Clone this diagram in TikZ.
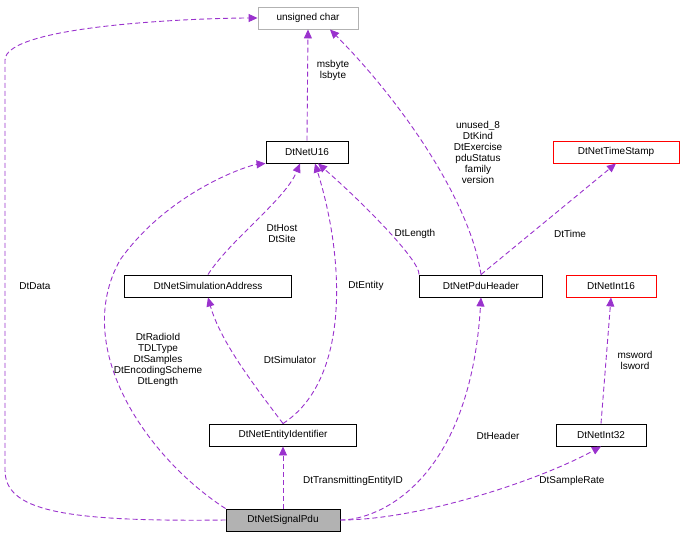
\documentclass[tikz,border=0pt]{standalone}
\usepackage{fontspec}
\setmainfont{Liberation Sans}
\usetikzlibrary{arrows.meta}
\definecolor{ed}{HTML}{9A32CD}
\begin{document}
\begin{tikzpicture}[x=1pt,y=-1pt,
 box/.style={draw,line width=0.9pt,fill=white,minimum height=22pt,inner xsep=5pt,font=\fontsize{10}{11}\selectfont},
 e/.style={draw=ed,line width=0.9pt,dash pattern=on 5pt off 3pt,-{Triangle[fill=ed,length=9pt,width=8pt]}},
 lb/.style={font=\fontsize{10}{11}\selectfont,align=center,inner sep=1pt}]
\useasboundingbox (0,0) rectangle (683,547);
\node[box,draw=gray!60,minimum width=100pt] (uc) at (308,18) {unsigned char};
\node[box,draw=black,minimum width=82pt] (u16) at (307,152) {DtNetU16};
\node[box,draw=red,minimum width=126pt] (ts) at (616,152) {DtNetTimeStamp};
\node[box,draw=black,minimum width=167pt] (sa) at (208,286) {DtNetSimulationAddress};
\node[box,draw=black,minimum width=123pt] (ph) at (481,286) {DtNetPduHeader};
\node[box,draw=red,minimum width=90pt] (i16) at (611,286) {DtNetInt16};
\node[box,draw=black,minimum width=147pt] (ei) at (283,435) {DtNetEntityIdentifier};
\node[box,draw=black,minimum width=90pt] (i32) at (601,435) {DtNetInt32};
\node[box,draw=black,fill=gray!60,minimum width=114pt] (sp) at (283,520) {DtNetSignalPdu};
\coordinate (a1) at (5,470);
\draw[e] (sp.west) .. controls (60,522) and (5,510) .. (a1) -- (5,60) .. controls (5,25) and (200,18) .. (uc.west);
\node[lb] at (35,286) {DtData};
\draw[e] (sp.north west) .. controls (150,460) and (70,350) .. (120,260) .. controls (170,190) and (250,165) .. (u16.south west);
\node[lb] at (158,360) {DtRadioId\\TDLType\\DtSamples\\DtEncodingScheme\\DtLength};
\draw[e] (ei.north) .. controls (250,380) and (220,340) .. (sa.south);
\node[lb] at (290,360) {DtSimulator};
\draw[e] (ei.north) .. controls (350,380) and (345,260) .. (315,163.5);
\node[lb] at (366,286) {DtEntity};
\draw[e] (sa.north) .. controls (230,240) and (285,200) .. (300,163.5);
\node[lb] at (282,234) {DtHost\\DtSite};
\draw[e] (u16.north) -- (uc.south);
\node[lb] at (333,70) {msbyte\\lsbyte};
\draw[e] (ph.north west) .. controls (420,260) and (360,200) .. (318,163.5);
\node[lb] at (415,234) {DtLength};
\draw[e] (ph.north) .. controls (470,200) and (400,100) .. (330,29.5);
\node[lb] at (478,152) {unused\_8\\DtKind\\DtExercise\\pduStatus\\family\\version};
\draw[e] (ph.north) -- (ts.south);
\node[lb] at (570,234) {DtTime};
\draw[e] (i32.north) -- (i16.south);
\node[lb] at (635,360) {msword\\lsword};
\draw[e] (sp.north) -- (ei.south);
\node[lb] at (353,481) {DtTransmittingEntityID};
\draw[e] (sp.east) .. controls (380,520) and (470,480) .. (ph.south);
\node[lb] at (498,436) {DtHeader};
\draw[e] (sp.east) .. controls (420,520) and (540,480) .. (i32.south);
\node[lb] at (572,481) {DtSampleRate};
\end{tikzpicture}
\end{document}
